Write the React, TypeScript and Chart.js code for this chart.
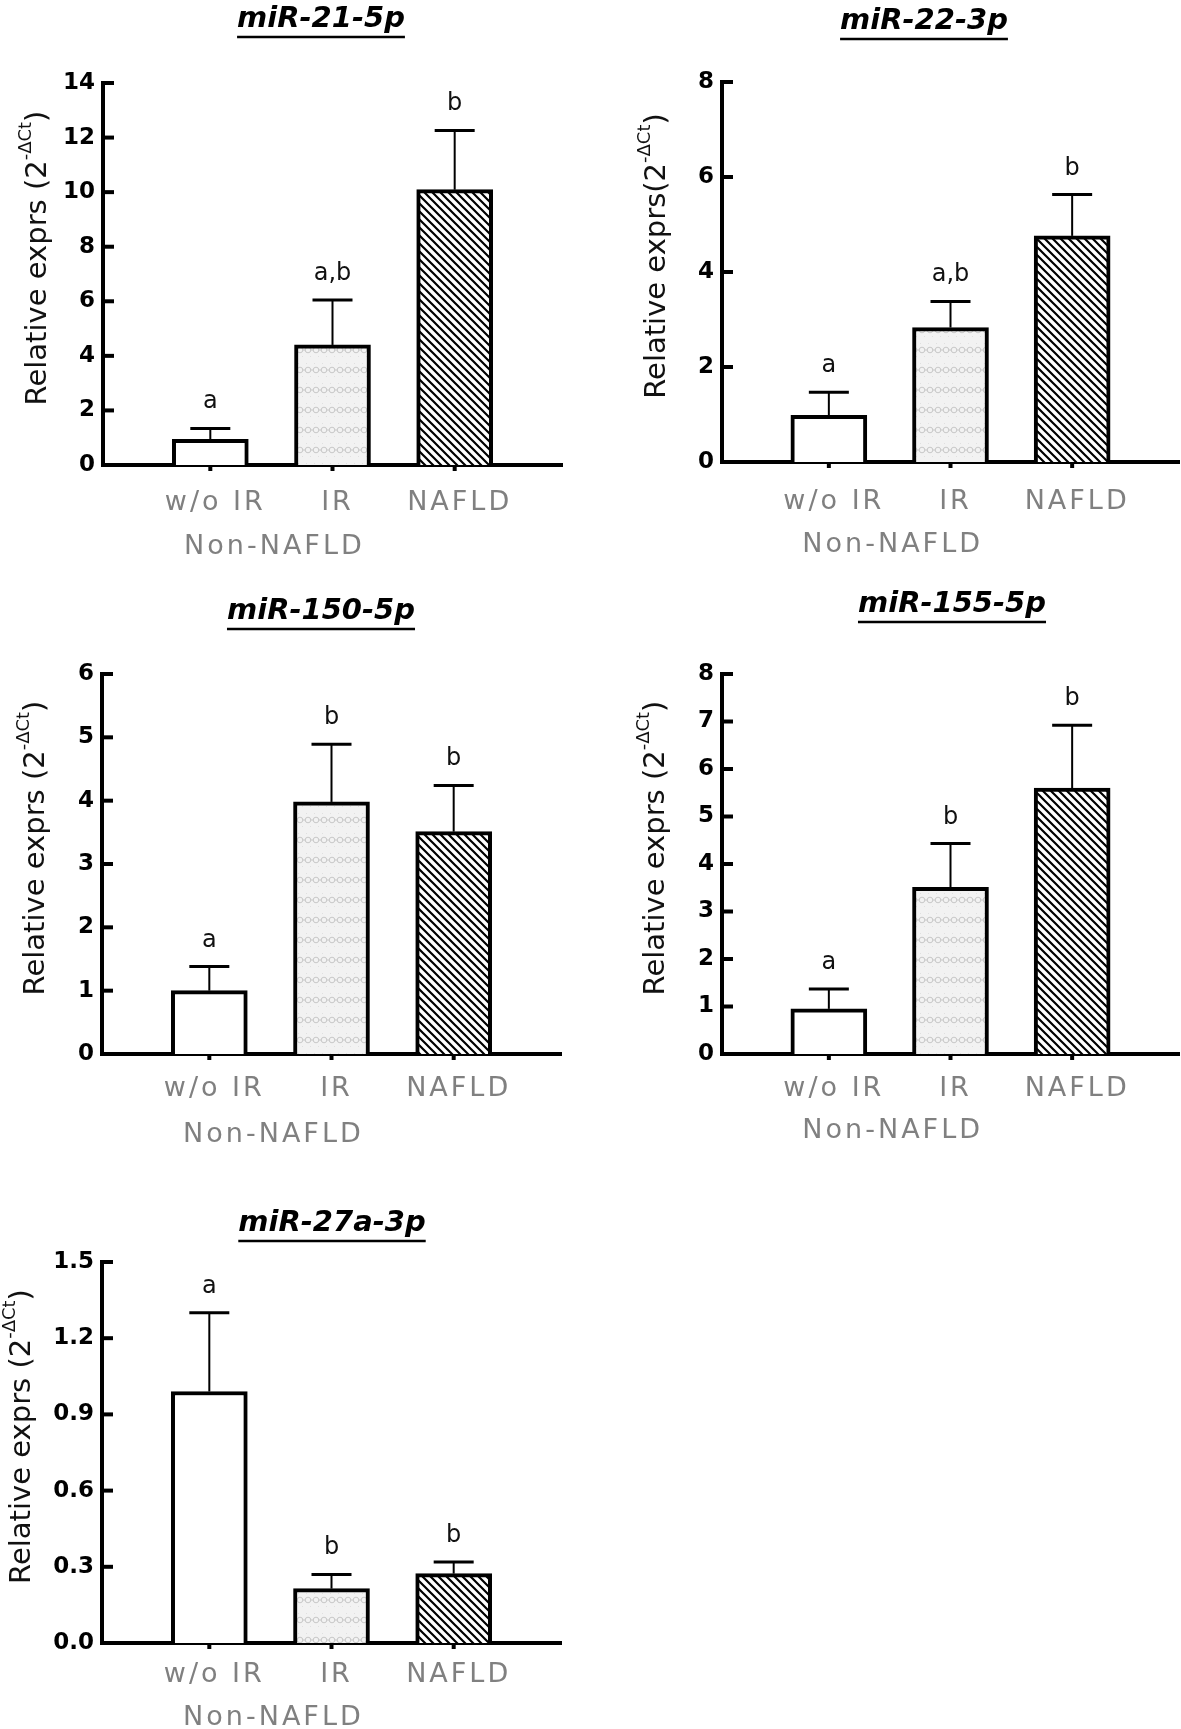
import { useEffect, useRef } from 'react'
import { Chart, registerables } from 'chart.js'

Chart.register(...registerables)

// groups on the x axis
const groups = ['w/o IR', 'IR', 'NAFLD']
const groupNote = 'Non-NAFLD'

// miR-21-5p
const mir21Mean = [0.94, 4.4, 10.09]
const mir21Sem = [0.4, 1.65, 2.17]
const mir21Letters = ['a', 'a,b', 'b']
const mir21Ticks = [0, 2, 4, 6, 8, 10, 12, 14]
const mir21TickLabels = ['0', '2', '4', '6', '8', '10', '12', '14']

// miR-22-3p
const mir22Mean = [0.98, 2.83, 4.76]
const mir22Sem = [0.49, 0.55, 0.87]
const mir22Letters = ['a', 'a,b', 'b']
const mir22Ticks = [0, 2, 4, 6, 8]
const mir22TickLabels = ['0', '2', '4', '6', '8']

// miR-150-5p
const mir150Mean = [1.0, 3.98, 3.51]
const mir150Sem = [0.38, 0.91, 0.73]
const mir150Letters = ['a', 'b', 'b']
const mir150Ticks = [0, 1, 2, 3, 4, 5, 6]
const mir150TickLabels = ['0', '1', '2', '3', '4', '5', '6']

// miR-155-5p
const mir155Mean = [0.95, 3.51, 5.6]
const mir155Sem = [0.42, 0.92, 1.32]
const mir155Letters = ['a', 'b', 'b']
const mir155Ticks = [0, 1, 2, 3, 4, 5, 6, 7, 8]
const mir155TickLabels = ['0', '1', '2', '3', '4', '5', '6', '7', '8']

// miR-27a-3p
const mir27Mean = [0.99, 0.214, 0.273]
const mir27Sem = [0.31, 0.056, 0.046]
const mir27Letters = ['a', 'b', 'b']
const mir27Ticks = [0, 0.3, 0.6, 0.9, 1.2, 1.5]
const mir27TickLabels = ['0.0', '0.3', '0.6', '0.9', '1.2', '1.5']

const FONT = '"DejaVu Sans", sans-serif'

function hatchPattern(ctx: CanvasRenderingContext2D) {
  const s = 8
  const tile = document.createElement('canvas')
  tile.width = s
  tile.height = s
  const t = tile.getContext('2d')!
  t.fillStyle = '#ffffff'
  t.fillRect(0, 0, s, s)
  t.strokeStyle = '#000000'
  t.lineWidth = 2.2
  t.beginPath()
  for (const k of [-s, 0, s]) {
    t.moveTo(k - 1, -1)
    t.lineTo(k + s + 1, s + 1)
  }
  t.stroke()
  return ctx.createPattern(tile, 'repeat')!
}

function dotPattern(ctx: CanvasRenderingContext2D) {
  const w = 8
  const h = 20
  const tile = document.createElement('canvas')
  tile.width = w
  tile.height = h
  const t = tile.getContext('2d')!
  t.fillStyle = '#f2f2f2'
  t.fillRect(0, 0, w, h)
  t.strokeStyle = '#c8c8c8'
  t.lineWidth = 1
  t.beginPath()
  t.arc(4, 10, 2.8, 0, Math.PI * 2)
  t.stroke()
  t.beginPath()
  t.moveTo(0, 10)
  t.lineTo(1.2, 10)
  t.moveTo(6.8, 10)
  t.lineTo(8, 10)
  t.stroke()
  t.fillStyle = '#e0e0e0'
  t.fillRect(2, 3, 1, 1)
  t.fillRect(6, 16, 1, 1)
  return ctx.createPattern(tile, 'repeat')!
}

type Box = { x: number; y: number; w: number; h: number }
type Area = { l: number; t: number; r: number; b: number }

type PanelProps = {
  title: string
  yTitle: string
  mean: number[]
  sem: number[]
  letters: string[]
  yTicks: number[]
  yLabels: string[]
  box: Box
  area: Area
  titleAt: { x: number; y: number }
  yTitleDx: number
  labelDy: number
  noteDy: number
}

function Panel(p: PanelProps) {
  const ref = useRef<HTMLCanvasElement>(null)

  useEffect(() => {
    const canvas = ref.current
    if (!canvas) return
    const ctx = canvas.getContext('2d')
    if (!ctx) return
    const { box, area } = p

    const decorations = {
      id: 'decorations',
      afterDraw(chart: any) {
        const c = chart.ctx as CanvasRenderingContext2D
        const xs = chart.scales.x
        const ys = chart.scales.y
        const ca = chart.chartArea
        c.save()

        // inward y ticks
        c.strokeStyle = '#000'
        c.lineWidth = 4
        for (const v of p.yTicks) {
          const y = ys.getPixelForValue(v)
          c.beginPath()
          c.moveTo(ca.left, y)
          c.lineTo(ca.left + 11, y)
          c.stroke()
        }

        // small ticks under the x axis
        c.lineWidth = 4
        groups.forEach((_g, i) => {
          const x = xs.getPixelForValue(i)
          c.beginPath()
          c.moveTo(x, ca.bottom)
          c.lineTo(x, ca.bottom + 6)
          c.stroke()
        })

        // error bars and letters
        p.mean.forEach((m, i) => {
          const x = xs.getPixelForValue(i)
          const y0 = ys.getPixelForValue(m)
          const y1 = ys.getPixelForValue(m + p.sem[i])
          c.strokeStyle = '#000'
          c.lineWidth = 2
          c.beginPath()
          c.moveTo(x, y0)
          c.lineTo(x, y1)
          c.stroke()
          c.lineWidth = 3
          c.beginPath()
          c.moveTo(x - 20, y1)
          c.lineTo(x + 20, y1)
          c.stroke()
          c.fillStyle = '#111'
          c.font = `24px ${FONT}`
          c.textAlign = 'center'
          c.textBaseline = 'alphabetic'
          c.fillText(p.letters[i], x, y1 - 20)
        })

        // category labels
        c.fillStyle = '#808080'
        c.font = `27px ${FONT}`
        c.textAlign = 'center'
        c.textBaseline = 'middle'
        ;(c as any).letterSpacing = '3px'
        groups.forEach((g, i) => {
          const x = xs.getPixelForValue(i)
          c.fillText(g, x + 5, ca.bottom + p.labelDy)
        })
        const mid = (xs.getPixelForValue(0) + xs.getPixelForValue(1)) / 2
        c.fillText(groupNote, mid + 3, ca.bottom + p.noteDy)
        ;(c as any).letterSpacing = '0px'

        // panel title, underlined
        const tx = p.titleAt.x - box.x
        const ty = p.titleAt.y - box.y
        c.fillStyle = '#000'
        c.font = `italic bold 29px ${FONT}`
        c.textAlign = 'center'
        c.textBaseline = 'middle'
        c.fillText(p.title, tx, ty)
        const tw = c.measureText(p.title).width
        c.lineWidth = 2.5
        c.beginPath()
        c.moveTo(tx - tw / 2, ty + 18)
        c.lineTo(tx + tw / 2, ty + 18)
        c.stroke()

        // y axis title with superscript
        const cx = ca.left - p.yTitleDx
        const cy = (ca.top + ca.bottom) / 2 - 16
        c.translate(cx, cy)
        c.rotate(-Math.PI / 2)
        c.textAlign = 'left'
        c.textBaseline = 'alphabetic'
        const big = `29px ${FONT}`
        const small = `18px ${FONT}`
        const sup = '-\u0394Ct'
        c.font = big
        const w1 = c.measureText(p.yTitle).width
        const w3 = c.measureText(')').width
        c.font = small
        const w2 = c.measureText(sup).width
        let sx = -(w1 + w2 + w3) / 2
        c.fillStyle = '#111'
        c.font = big
        c.fillText(p.yTitle, sx, 10)
        sx += w1
        c.font = small
        c.fillText(sup, sx, -5)
        sx += w2
        c.font = big
        c.fillText(')', sx, 10)

        c.restore()
      },
    }

    const chart = new Chart(ctx, {
      type: 'bar',
      data: {
        datasets: [
          {
            data: p.mean.map((v, i) => ({ x: i, y: v })),
            backgroundColor: ['#ffffff', dotPattern(ctx), hatchPattern(ctx)],
            borderColor: '#000000',
            borderWidth: 4,
            barThickness: 76,
          },
        ],
      },
      options: {
        responsive: false,
        animation: false,
        devicePixelRatio: 1,
        layout: {
          padding: { top: area.t - box.y, right: box.x + box.w - area.r, left: 0, bottom: 0 },
        },
        plugins: {
          legend: { display: false },
          tooltip: { enabled: false },
        },
        scales: {
          x: {
            type: 'linear',
            min: -0.61,
            max: 2.61,
            grid: { display: false, drawTicks: false },
            border: { display: true, width: 4, color: '#000' },
            ticks: { display: false },
            afterFit: (s: any) => {
              s.height = box.y + box.h - area.b
            },
          },
          y: {
            min: p.yTicks[0],
            max: p.yTicks[p.yTicks.length - 1],
            afterBuildTicks: (s: any) => {
              s.ticks = p.yTicks.map((v) => ({ value: v }))
            },
            grid: { display: false, drawTicks: false },
            border: { display: true, width: 4, color: '#000' },
            ticks: {
              padding: 8,
              color: '#000',
              font: { family: FONT, size: 23, weight: 'bold' },
              callback: (_v: any, i: number) => p.yLabels[i],
            },
            afterFit: (s: any) => {
              s.width = area.l - box.x
            },
          },
        },
      } as any,
      plugins: [decorations],
    })

    return () => chart.destroy()
  }, [])

  return (
    <canvas
      ref={ref}
      width={p.box.w}
      height={p.box.h}
      style={{ position: 'absolute', left: p.box.x, top: p.box.y, width: p.box.w, height: p.box.h }}
    />
  )
}

export default function App() {
  return (
    <div style={{ position: 'relative', width: 1181, height: 1729, background: '#fff', overflow: 'hidden' }}>
      <style>{'body { margin: 0; }'}</style>
      <Panel
        title="miR-21-5p"
        yTitle="Relative exprs (2"
        mean={mir21Mean}
        sem={mir21Sem}
        letters={mir21Letters}
        yTicks={mir21Ticks}
        yLabels={mir21TickLabels}
        box={{ x: 0, y: 0, w: 590, h: 570 }}
        area={{ l: 103, t: 83, r: 562, b: 465 }}
        titleAt={{ x: 321, y: 19 }}
        yTitleDx={67}
        labelDy={38}
        noteDy={82}
      />
      <Panel
        title="miR-22-3p"
        yTitle="Relative exprs(2"
        mean={mir22Mean}
        sem={mir22Sem}
        letters={mir22Letters}
        yTicks={mir22Ticks}
        yLabels={mir22TickLabels}
        box={{ x: 590, y: 0, w: 591, h: 570 }}
        area={{ l: 722, t: 82, r: 1179, b: 462 }}
        titleAt={{ x: 924, y: 21 }}
        yTitleDx={67}
        labelDy={40}
        noteDy={83}
      />
      <Panel
        title="miR-150-5p"
        yTitle="Relative exprs (2"
        mean={mir150Mean}
        sem={mir150Sem}
        letters={mir150Letters}
        yTicks={mir150Ticks}
        yLabels={mir150TickLabels}
        box={{ x: 0, y: 570, w: 590, h: 600 }}
        area={{ l: 102, t: 674, r: 561, b: 1054 }}
        titleAt={{ x: 321, y: 611 }}
        yTitleDx={68}
        labelDy={35}
        noteDy={81}
      />
      <Panel
        title="miR-155-5p"
        yTitle="Relative exprs (2"
        mean={mir155Mean}
        sem={mir155Sem}
        letters={mir155Letters}
        yTicks={mir155Ticks}
        yLabels={mir155TickLabels}
        box={{ x: 590, y: 570, w: 591, h: 600 }}
        area={{ l: 722, t: 674, r: 1179, b: 1054 }}
        titleAt={{ x: 952, y: 604 }}
        yTitleDx={68}
        labelDy={35}
        noteDy={77}
      />
      <Panel
        title="miR-27a-3p"
        yTitle="Relative exprs (2"
        mean={mir27Mean}
        sem={mir27Sem}
        letters={mir27Letters}
        yTicks={mir27Ticks}
        yLabels={mir27TickLabels}
        box={{ x: 0, y: 1170, w: 590, h: 559 }}
        area={{ l: 102, t: 1262, r: 561, b: 1643 }}
        titleAt={{ x: 332, y: 1223 }}
        yTitleDx={82}
        labelDy={32}
        noteDy={75}
      />
    </div>
  )
}
